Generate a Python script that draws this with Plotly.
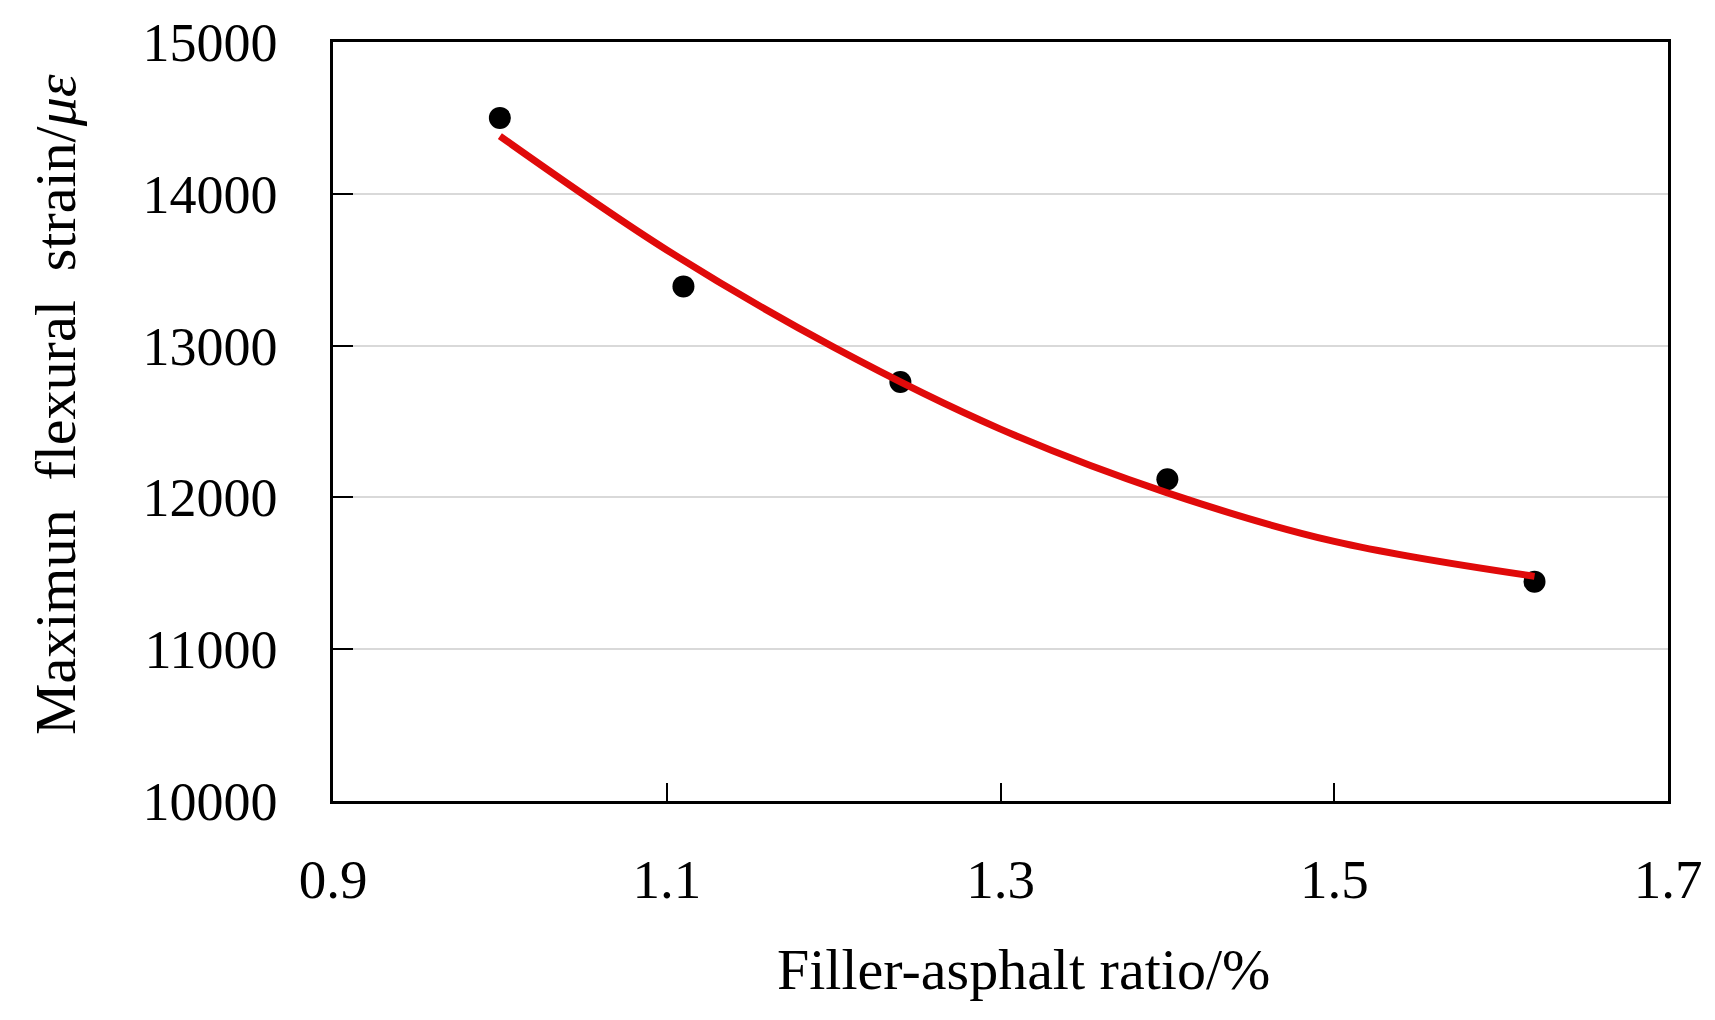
import plotly.graph_objects as go

# measured data points
ratio = [1.00, 1.11, 1.24, 1.40, 1.62]
strain = [14500, 13390, 12760, 12120, 11445]

# fitted trend curve
fit_ratio = [1.00, 1.10, 1.20, 1.30, 1.40, 1.50, 1.62]
fit_strain = [14380, 13630, 12990, 12450, 12030, 11710, 11480]

x_ticks = [0.9, 1.1, 1.3, 1.5, 1.7]
y_ticks = [10000, 11000, 12000, 13000, 14000, 15000]

FONT = "Liberation Serif"

fig = go.Figure()
fig.add_trace(go.Scatter(
    x=ratio, y=strain, mode="markers",
    marker=dict(color="black", size=22),
    showlegend=False,
))
fig.add_trace(go.Scatter(
    x=fit_ratio, y=fit_strain, mode="lines", line_shape="spline",
    line=dict(color="#e00a0a", width=7),
    showlegend=False,
))

fig.update_layout(
    width=1715, height=1020,
    margin=dict(l=325, r=55, t=34, b=227),
    paper_bgcolor="white", plot_bgcolor="white",
    font=dict(family=FONT, color="black", size=54),
    annotations=[
        dict(text="Filler-asphalt ratio/%", xref="paper", yref="paper",
             x=0.517, y=-0.222, xanchor="center", yanchor="middle",
             showarrow=False, font=dict(family=FONT, size=58)),
        dict(text="Maximun  flexural  strain/<i>με</i>", xref="paper", yref="paper",
             x=-0.208, y=0.522, xanchor="center", yanchor="middle", textangle=-90,
             showarrow=False, font=dict(family=FONT, size=58)),
    ],
)
fig.update_xaxes(
    range=[0.9, 1.7], tickvals=x_ticks, ticktext=[str(v) for v in x_ticks],
    showline=True, linecolor="black", linewidth=2.5, mirror=True,
    ticks="inside", ticklen=18, tickwidth=2, tickcolor="black",
    showgrid=False, zeroline=False, ticklabelstandoff=28,
    ticklabeloverflow="allow", automargin=False,
    tickfont=dict(family=FONT, size=55),
)
fig.update_yaxes(
    range=[10000, 15000], tickvals=y_ticks, ticktext=[str(v) for v in y_ticks],
    showline=True, linecolor="black", linewidth=2.5, mirror=True,
    ticks="inside", ticklen=20, tickwidth=2, tickcolor="black",
    showgrid=True, gridcolor="#d9d9d9", gridwidth=2, zeroline=False,
    ticklabelstandoff=42, ticklabeloverflow="allow", automargin=False,
    tickfont=dict(family=FONT, size=54),
)

fig.write_html("out.html")
